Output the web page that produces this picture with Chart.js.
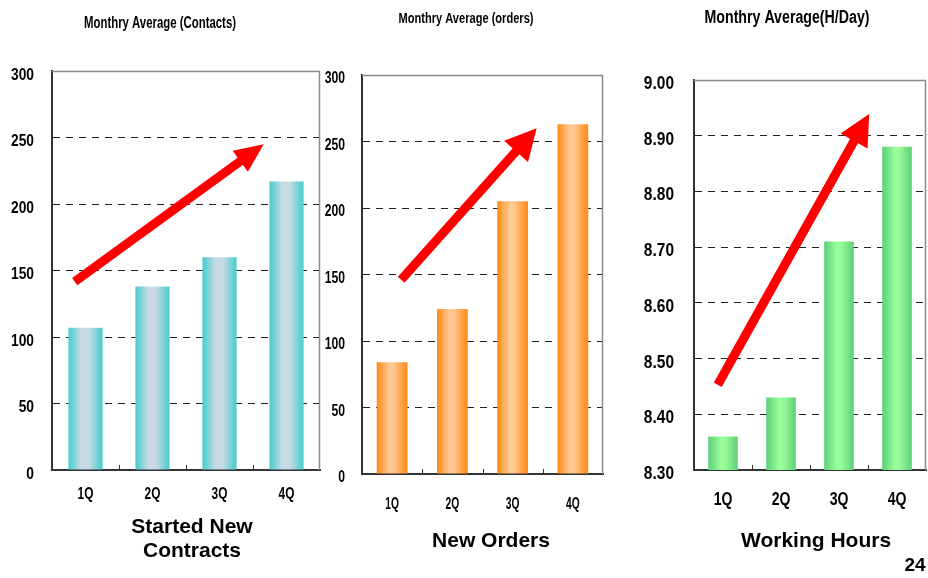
<!DOCTYPE html>
<html>
<head>
<meta charset="utf-8">
<title>Quarterly monthly averages</title>
<script src="https://cdn.jsdelivr.net/npm/chart.js@4.4.1/dist/chart.umd.min.js"></script>
<style>
  html, body { margin: 0; padding: 0; background: #fff; }
  body { width: 928px; height: 578px; position: relative; overflow: hidden; }
  canvas { position: absolute; top: 0; }
  #contractsChart { left: 0; }
  #ordersChart { left: 300px; }
  #hoursChart { left: 614px; }
</style>
</head>
<body>
<canvas id="contractsChart" width="324" height="578"></canvas>
<canvas id="ordersChart" width="314" height="578"></canvas>
<canvas id="hoursChart" width="314" height="578"></canvas>
<script>
// ---- data ----
const quarters = ['1Q', '2Q', '3Q', '4Q'];
const newContracts = [107, 138, 160, 217];
const newOrders = [84, 124, 205, 263];
const workingHours = [8.36, 8.43, 8.71, 8.88];

const countTicks = [0, 50, 100, 150, 200, 250, 300];
const hourTicks = [8.30, 8.40, 8.50, 8.60, 8.70, 8.80, 8.90, 9.00];

// trend arrows as [category position, value] pairs: tail, then tip
const contractsTrend = [[-0.16, 141.7], [2.66, 245]];
const ordersTrend = [[0.15, 146], [2.40, 260]];
const hoursTrend = [[-0.09, 8.453], [2.52, 8.939]];

const SANS = "'Liberation Sans',Arial,sans-serif";

// draws text at (x, y), squeezed horizontally by sx
function squeezedText(ctx, text, x, y, sx, align) {
  ctx.save();
  ctx.translate(x, y);
  ctx.scale(sx, 1);
  ctx.textAlign = align;
  ctx.fillText(text, 0, 0);
  ctx.restore();
}

// ---- plugins ----
// light frame on the top and right of the plot, plus small inward ticks between quarters
const framePlugin = {
  id: 'frame',
  afterDatasetsDraw(chart, args, o) {
    const { ctx, chartArea: a, scales: { x } } = chart;
    ctx.save();
    ctx.strokeStyle = o.color;
    ctx.lineWidth = o.width;
    ctx.beginPath();
    ctx.moveTo(a.left, a.top + 0.5);
    ctx.lineTo(a.right - 0.5, a.top + 0.5);
    ctx.lineTo(a.right - 0.5, a.bottom);
    ctx.stroke();
    ctx.strokeStyle = '#333';
    ctx.lineWidth = 1;
    ctx.beginPath();
    for (let i = 1; i < x.ticks.length; i++) {
      const px = Math.round((x.getPixelForValue(i - 1) + x.getPixelForValue(i)) / 2) + 0.5;
      ctx.moveTo(px, a.bottom);
      ctx.lineTo(px, a.bottom - 5);
    }
    ctx.stroke();
    ctx.restore();
  }
};

// condensed tick labels for both axes, placed from the scales
const tickLabelsPlugin = {
  id: 'tickLabels',
  afterDraw(chart, args, o) {
    const { ctx, chartArea: a, scales: { x, y } } = chart;
    ctx.save();
    ctx.fillStyle = o.color;
    ctx.font = o.font;
    ctx.textBaseline = 'alphabetic';
    y.ticks.forEach((t) => {
      const py = y.getPixelForValue(t.value);
      squeezedText(ctx, t.label, a.left - o.yPad, py + o.yShift, o.ySqueeze, 'right');
    });
    x.ticks.forEach((t, i) => {
      const px = x.getPixelForValue(i);
      squeezedText(ctx, chart.data.labels[i], px, a.bottom + o.xDrop, o.xSqueeze, 'center');
    });
    ctx.restore();
  }
};

// thick red trend arrow placed in data space
const trendArrowPlugin = {
  id: 'trendArrow',
  afterDatasetsDraw(chart, args, o) {
    const { ctx, scales: { x, y } } = chart;
    const x0 = x.getPixelForValue(o.from[0]), y0 = y.getPixelForValue(o.from[1]);
    const x1 = x.getPixelForValue(o.to[0]), y1 = y.getPixelForValue(o.to[1]);
    const ang = Math.atan2(y1 - y0, x1 - x0);
    const c = Math.cos(ang), s = Math.sin(ang);
    const bx = x1 - o.head * c, by = y1 - o.head * s;
    ctx.save();
    ctx.strokeStyle = o.color;
    ctx.fillStyle = o.color;
    ctx.lineWidth = o.width;
    ctx.lineCap = 'butt';
    ctx.beginPath();
    ctx.moveTo(x0, y0);
    ctx.lineTo(bx + 2 * c, by + 2 * s);
    ctx.stroke();
    ctx.beginPath();
    ctx.moveTo(x1, y1);
    ctx.lineTo(bx + o.half * s, by - o.half * c);
    ctx.lineTo(bx - o.half * s, by + o.half * c);
    ctx.closePath();
    ctx.fill();
    ctx.restore();
  }
};

// headings and captions; an optional width squeezes the text to that size
const captionsPlugin = {
  id: 'captions',
  afterDraw(chart, args, o) {
    const ctx = chart.ctx;
    for (const t of o.items) {
      ctx.save();
      ctx.font = t.font;
      ctx.fillStyle = t.color || '#000';
      ctx.textBaseline = 'alphabetic';
      const sx = t.width ? t.width / ctx.measureText(t.text).width : 1;
      squeezedText(ctx, t.text, t.x, t.y, sx, 'center');
      ctx.restore();
    }
  }
};

const BAR_PCT = 0.51;

function barGradient(stops) {
  return (c) => {
    const chart = c.chart;
    const area = chart.chartArea;
    if (!area || c.dataIndex === undefined) return stops[0][1];
    const cx = chart.scales.x.getPixelForValue(c.dataIndex);
    const w = area.width / chart.data.labels.length * BAR_PCT;
    const g = chart.ctx.createLinearGradient(cx - w / 2, 0, cx + w / 2, 0);
    stops.forEach(([off, col]) => g.addColorStop(off, col));
    return g;
  };
}

function makeChart(id, cfg) {
  return new Chart(document.getElementById(id), {
    type: 'bar',
    data: {
      labels: quarters,
      datasets: [{
        data: cfg.values,
        backgroundColor: barGradient(cfg.stops),
        borderWidth: 0,
        barPercentage: BAR_PCT,
        categoryPercentage: 1
      }]
    },
    options: {
      responsive: false,
      animation: false,
      layout: { padding: { top: cfg.top, right: cfg.right, left: 0, bottom: 0 } },
      scales: {
        x: {
          grid: { display: false, drawTicks: false },
          border: { display: true, color: '#333', width: 2 },
          ticks: { display: false },
          afterFit(scale) { scale.height = cfg.xHeight; }
        },
        y: {
          min: cfg.ticks[0],
          max: cfg.ticks[cfg.ticks.length - 1],
          afterBuildTicks(scale) { scale.ticks = cfg.ticks.map(v => ({ value: v })); },
          afterFit(scale) { scale.width = cfg.yWidth; },
          grid: {
            drawTicks: false,
            lineWidth: 1,
            color: (c) => (c.index === 0 || c.index === cfg.ticks.length - 1) ? 'rgba(0,0,0,0)' : '#222'
          },
          border: { display: true, color: '#333', width: 2, dash: [7, 6] },
          ticks: { display: false, callback: (v) => cfg.fmt(v) }
        }
      },
      plugins: {
        legend: { display: false },
        tooltip: { enabled: false },
        frame: { color: '#8a8a8a', width: 1.5 },
        tickLabels: Object.assign({ color: '#000' }, cfg.tickLabels),
        trendArrow: {
          from: cfg.trend[0], to: cfg.trend[1],
          color: '#ff0000', width: 9, head: cfg.head, half: cfg.half
        },
        captions: { items: cfg.captions }
      }
    },
    plugins: [framePlugin, trendArrowPlugin, tickLabelsPlugin, captionsPlugin]
  });
}

makeChart('contractsChart', {
  values: newContracts,
  ticks: countTicks,
  fmt: (v) => String(v),
  stops: [[0, '#44cccc'], [0.38, '#c8dbe5'], [0.6, '#c6dae4'], [1, '#44cccc']],
  trend: contractsTrend, head: 29, half: 13,
  top: 71, right: 4, xHeight: 108, yWidth: 52,
  tickLabels: { font: `bold 16px ${SANS}`, yPad: 18, yShift: 8.5, ySqueeze: 0.86, xDrop: 29, xSqueeze: 0.74 },
  captions: [
    { text: 'Monthry Average (Contacts)', x: 160, y: 28, width: 152, font: `bold 16px ${SANS}` },
    { text: 'Started New', x: 192, y: 533, font: `bold 21px ${SANS}` },
    { text: 'Contracts', x: 192, y: 557, font: `bold 21px ${SANS}` }
  ]
});

makeChart('ordersChart', {
  values: newOrders,
  ticks: countTicks,
  fmt: (v) => String(v),
  stops: [[0, '#ff8812'], [0.4, '#ffca96'], [0.55, '#ffc68e'], [1, '#ff8812']],
  trend: ordersTrend, head: 31, half: 16,
  top: 75, right: 11, xHeight: 104, yWidth: 62,
  tickLabels: { font: `bold 16px ${SANS}`, yPad: 17, yShift: 8, ySqueeze: 0.76, xDrop: 35, xSqueeze: 0.64 },
  captions: [
    { text: 'Monthry Average (orders)', x: 166, y: 23, width: 135, font: `bold 15px ${SANS}` },
    { text: 'New Orders', x: 191, y: 547, font: `bold 21px ${SANS}` }
  ]
});

makeChart('hoursChart', {
  values: workingHours,
  ticks: hourTicks,
  fmt: (v) => v.toFixed(2),
  stops: [[0, '#5ccf78'], [0.45, '#9bff9b'], [0.6, '#96f896'], [1, '#5ccf78']],
  trend: hoursTrend, head: 31, half: 15.5,
  top: 80, right: 2, xHeight: 108, yWidth: 80,
  tickLabels: { font: `bold 18px ${SANS}`, yPad: 20, yShift: 9, ySqueeze: 0.86, xDrop: 35, xSqueeze: 0.78 },
  captions: [
    { text: 'Monthry Average(H/Day)', x: 173, y: 23, width: 165, font: `bold 18px ${SANS}` },
    { text: 'Working Hours', x: 202, y: 547, font: `bold 21px ${SANS}` },
    { text: '24', x: 301, y: 571, font: `bold 19px ${SANS}` }
  ]
});
</script>
</body>
</html>
